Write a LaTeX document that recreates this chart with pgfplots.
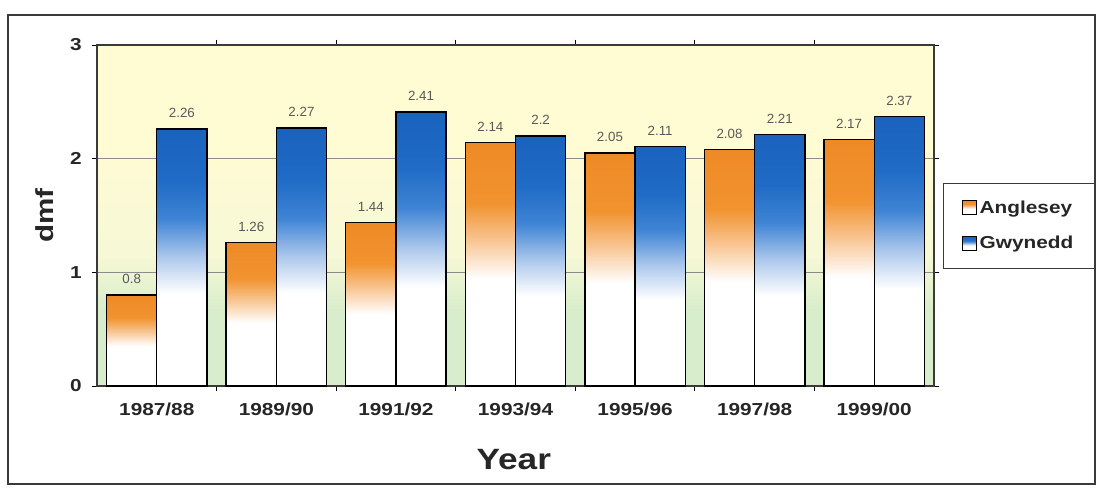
\documentclass[border=0pt]{standalone}
\usepackage{pgfplots}
\pgfplotsset{compat=1.18}
\usepackage{fontspec}
\setmainfont{Liberation Sans}[FakeStretch=1.2]
\newfontfamily\lblfont{Liberation Sans}

\definecolor{angA}{HTML}{EE8A26}
\definecolor{angB}{HTML}{F1932F}
\definecolor{angC}{HTML}{F8C592}
\definecolor{gwA}{HTML}{1A62BD}
\definecolor{gwB}{HTML}{1F6BC5}
\definecolor{gwC}{HTML}{3F84D5}
\definecolor{gwD}{HTML}{AEC9EC}
\definecolor{bgTop}{HTML}{FFFBD3}
\definecolor{bgMid}{HTML}{F6F8D6}
\definecolor{bgBot}{HTML}{D8EDCB}
\definecolor{frame}{HTML}{3A3A3A}

\pgfdeclareverticalshading{angshade}{100bp}{color(0bp)=(white); color(25bp)=(white); color(47bp)=(white); color(55bp)=(angC); color(62.5bp)=(angB); color(75bp)=(angA); color(100bp)=(angA)}
\pgfdeclareverticalshading{gwshade}{100bp}{color(0bp)=(white); color(25bp)=(white); color(43bp)=(white); color(50bp)=(gwD); color(57.5bp)=(gwC); color(65bp)=(gwB); color(75bp)=(gwA); color(100bp)=(gwA)}
\pgfdeclareverticalshading{bgshade}{100bp}{color(0bp)=(bgBot); color(25bp)=(bgBot); color(36bp)=(bgBot); color(44bp)=(bgMid); color(60bp)=(bgTop); color(75bp)=(bgTop); color(100bp)=(bgTop)}

\pgfplotsset{
  angbar/.style={bar shift=-0.21, shading=angshade, draw=black, line width=1pt},
  gwbar/.style={bar shift=0.21, shading=gwshade, draw=black, line width=1pt},
}

\begin{document}
\begin{tikzpicture}
\useasboundingbox (0,0) rectangle (825.75pt,-367.5pt);
\fill[white] (0,0) rectangle (825.75pt,-367.5pt);
\draw[frame, line width=0.9pt] (6pt,-11.25pt) rectangle (821.25pt,-363pt);
\begin{axis}[
  at={(72.75pt,-289.5pt)}, anchor=south west,
  scale only axis, width=627.75pt, height=255.75pt,
  ybar=0pt, bar width=0.42,
  xmin=-0.5, xmax=6.5, ymin=0, ymax=3,
  ytick={0,1,2,3},
  xtick={0,...,6},
  xticklabels={1987/88,1989/90,1991/92,1993/94,1995/96,1997/98,1999/00},
  minor x tick num=1,
  major x tick style={draw=none},
  minor x tick style={black, line width=0.6pt},
  ytick style={black, line width=0.6pt},
  tick align=outside,
  major tick length=4pt,
  minor tick length=4pt,
  ymajorgrids,
  grid style={black!45, line width=0.6pt},
  axis line style={frame, line width=1pt},
  axis background/.style={shading=bgshade},
  /pgf/number format/assume math mode=true,
  ticklabel style={font=\bfseries\fontsize{13}{14}\selectfont, text=black!85},
  xticklabel style={yshift=-5pt},
  yticklabel style={xshift=-4pt},
  ylabel={dmf},
  xlabel={Year},
  every axis y label/.style={at={(axis description cs:-0.0621,0.5)}, rotate=90, anchor=center, font=\bfseries\fontsize{18.5}{20}\selectfont, text=black!85},
  every axis x label/.style={at={(axis description cs:0.498,-0.217)}, anchor=center, font=\bfseries\fontsize{22}{24}\selectfont, text=black!85},
  nodes near coords,
  nodes near coords style={font=\lblfont\fontsize{10}{10}\selectfont, text=black!65, yshift=4.5pt},
  legend style={at={(axis description cs:1.0108,0.47)}, anchor=west, draw=frame, line width=0.8pt,
    font=\bfseries\fontsize{13}{14}\selectfont, inner xsep=14pt, inner ysep=11pt, row sep=12pt, text=black!85},
  legend cell align=left,
  legend image code/.code={\draw[#1, line width=0.6pt] (0pt,-5.25pt) rectangle (10.5pt,5.25pt);},
]
% Anglesey 1987/88 and Gwynedd 1987/88 carry the legend entries
\addplot[angbar] coordinates {(0,0.80)};
\addlegendentry{Anglesey}
\addplot[gwbar] coordinates {(0,2.26)};
\addlegendentry{Gwynedd}
% Anglesey
\addplot[angbar, forget plot] coordinates {(1,1.26)};
\addplot[angbar, forget plot] coordinates {(2,1.44)};
\addplot[angbar, forget plot] coordinates {(3,2.14)};
\addplot[angbar, forget plot] coordinates {(4,2.05)};
\addplot[angbar, forget plot] coordinates {(5,2.08)};
\addplot[angbar, forget plot] coordinates {(6,2.17)};
% Gwynedd
\addplot[gwbar, forget plot] coordinates {(1,2.27)};
\addplot[gwbar, forget plot] coordinates {(2,2.41)};
\addplot[gwbar, forget plot] coordinates {(3,2.20)};
\addplot[gwbar, forget plot] coordinates {(4,2.11)};
\addplot[gwbar, forget plot] coordinates {(5,2.21)};
\addplot[gwbar, forget plot] coordinates {(6,2.37)};
\end{axis}
\end{tikzpicture}
\end{document}
